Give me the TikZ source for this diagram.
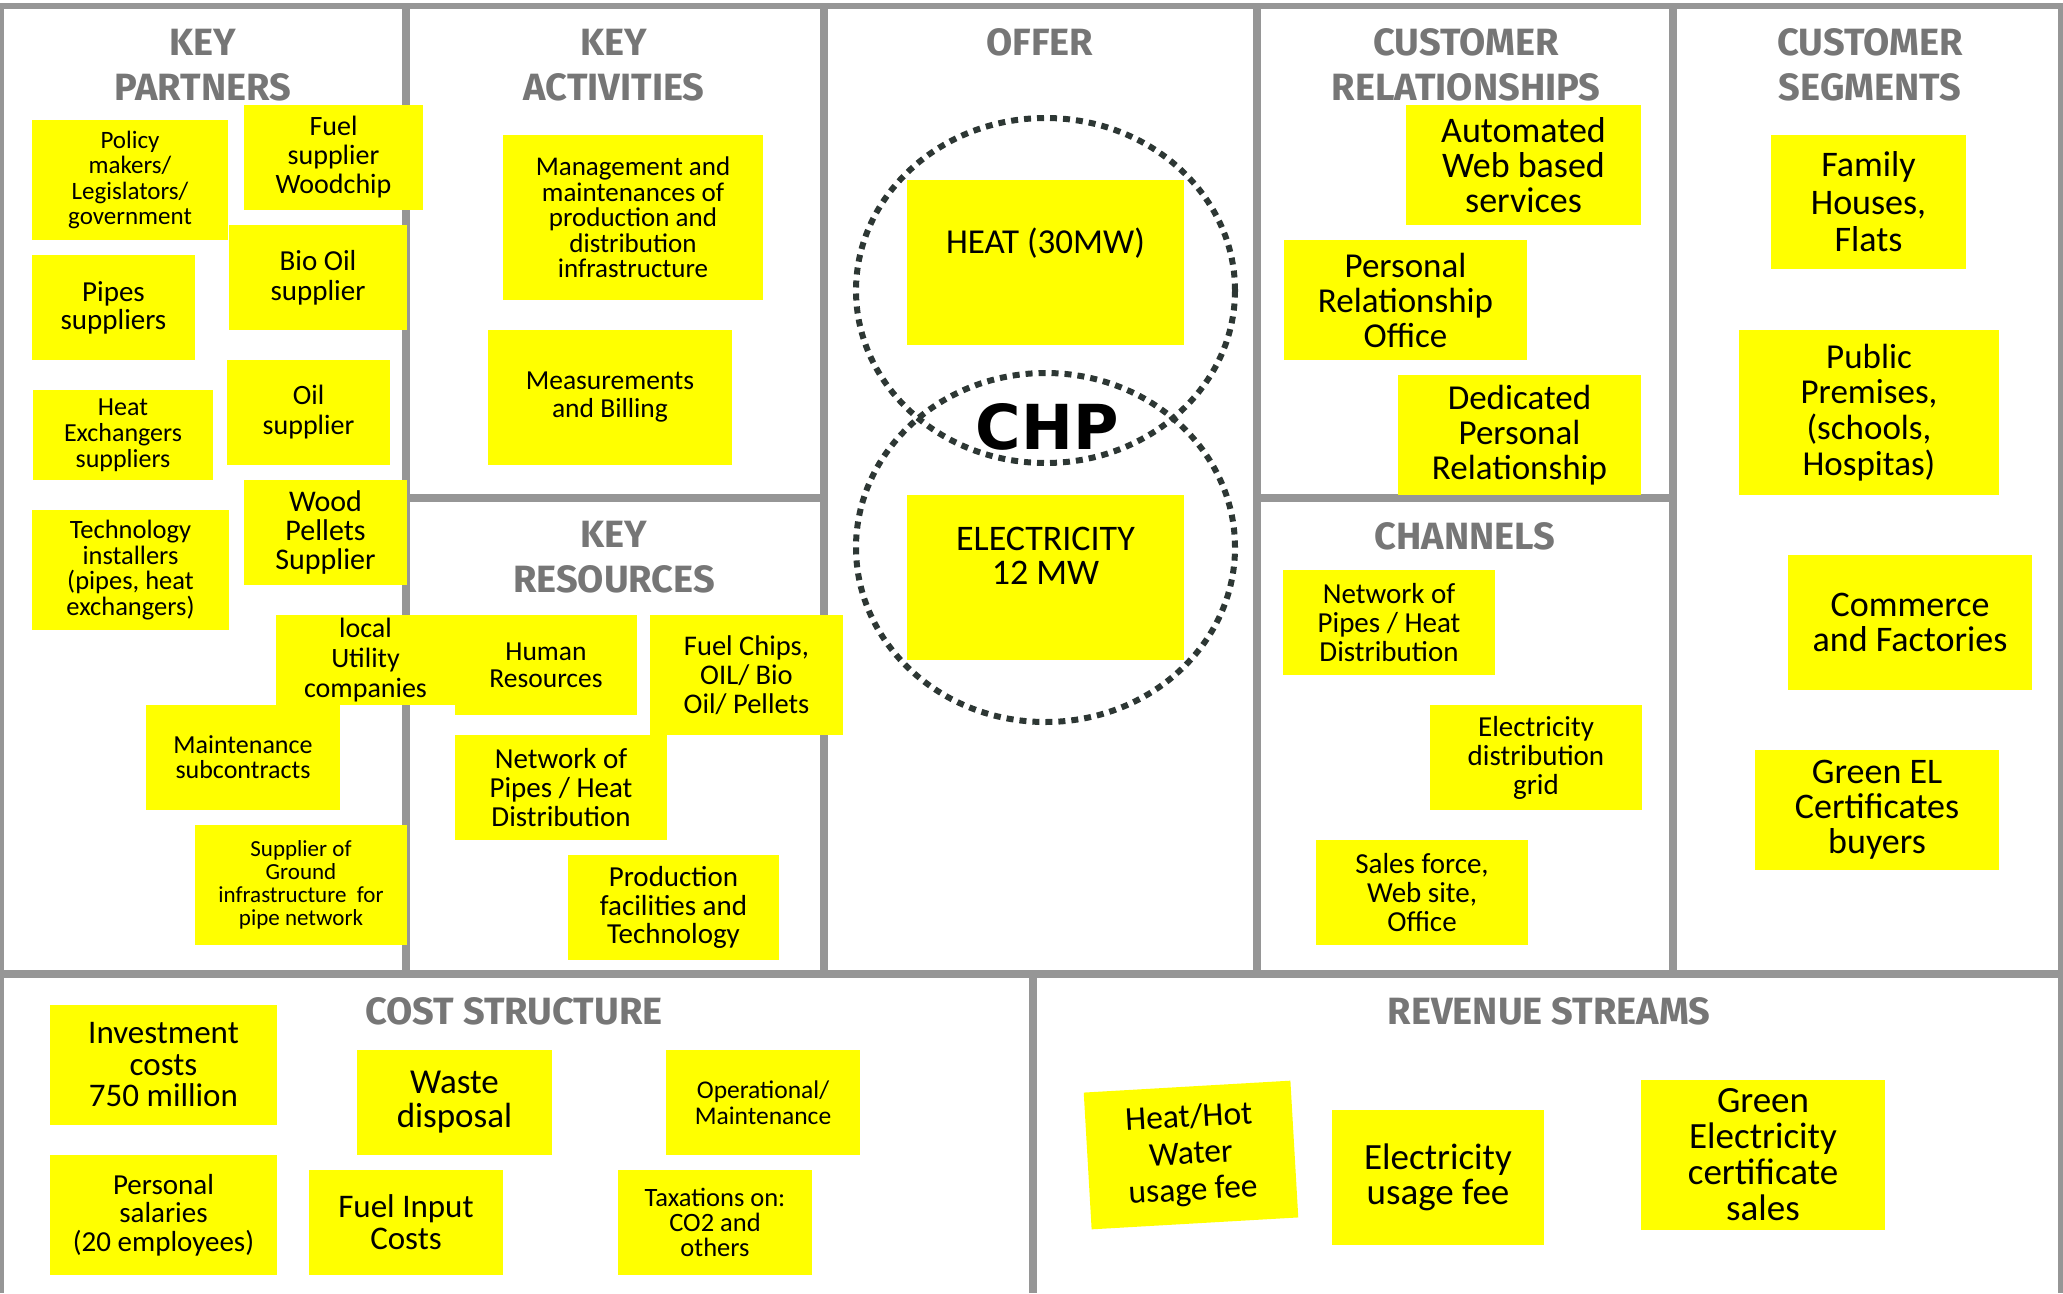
\documentclass[tikz,border=0pt]{standalone}
\usepackage{fontspec}
\setmainfont{Carlito}
\newfontfamily\headfont{Fira Sans}
\newfontfamily\chpfont{DejaVu Sans}
\definecolor{stickyyellow}{RGB}{255,255,0}
\definecolor{gridgray}{RGB}{150,150,150}
\definecolor{headgray}{RGB}{118,118,118}
\definecolor{chpdots}{RGB}{45,55,52}

\begin{document}
\begin{tikzpicture}[x=1pt,y=-1pt,
wall/.style={gridgray,line width=8pt},
head/.style={headgray,align=center,font=\headfont\bfseries\fontsize{38pt}{45pt}\selectfont},
note/.style={fill=stickyyellow,inner sep=0pt,align=center},
wh/.style 2 args={minimum width=#1pt,minimum height=#2pt},
fs/.style 2 args={font=\fontsize{#1pt}{#2pt}\selectfont},
chpring/.style={chpdots,line width=6pt,dash pattern=on 7pt off 6pt}]
\useasboundingbox (0,0) rectangle (2063,1293);
% canvas grid
\draw[gridgray,line width=6pt] (0,6) -- (2063,6);
\draw[wall] (0,6) -- (0,1293);
\draw[wall] (2062,6) -- (2062,1293);
\foreach \x in {406,824,1257,1673} \draw[wall] (\x,6) -- (\x,974);
\draw[wall] (406,498) -- (824,498);
\draw[wall] (1257,498) -- (1673,498);
\draw[wall] (0,974) -- (2063,974);
\draw[wall] (1033,974) -- (1033,1293);
% block titles
\node[head] (kphead) at (203,65) {KEY\\PARTNERS};
\node[head] (kahead) at (614,65) {KEY\\ACTIVITIES};
\node[head] (ofhead) at (1040,42) {OFFER};
\node[head] (crhead) at (1466,65) {CUSTOMER\\RELATIONSHIPS};
\node[head] (cshead) at (1870,65) {CUSTOMER\\SEGMENTS};
\node[head] (krhead) at (614,557) {KEY\\RESOURCES};
\node[head] (chhead) at (1465,536) {CHANNELS};
\node[head] (cohead) at (514,1011) {COST STRUCTURE};
\node[head] (rvhead) at (1549,1011) {REVENUE STREAMS};
% offer rings
\draw[chpring] (1045.5,290.5) ellipse [x radius=189.5pt,y radius=172.5pt];
\draw[chpring] (1045.5,547.5) ellipse [x radius=189.5pt,y radius=174.5pt];
\node (chp) at (1047,427) {\chpfont\fontsize{62pt}{62pt}\selectfont\bfseries CHP};
% key partners
\node[note,wh={196}{120},fs={25}{25.5}] (policy) at (130,180) {Policy\\makers/\\Legislators/\\government};
\node[note,wh={179}{105},fs={28}{29}] (fuelsup) at (333.5,157.5) {Fuel\\supplier\\Woodchip};
\node[note,wh={178}{105},fs={29}{30}] (biooil) at (318,277.5) {Bio Oil\\supplier};
\node[note,wh={163}{105},fs={29}{28}] (pipesup) at (113.5,307.5) {Pipes\\suppliers};
\node[note,wh={180}{90},fs={26}{26}] (heatex) at (123,435) {Heat\\Exchangers\\suppliers};
\node[note,wh={163}{105},fs={28}{30}] (oilsup) at (308.5,412.5) {Oil\\supplier};
\node[note,wh={163}{105},fs={30}{29}] (woodpel) at (325.5,532.5) {Wood\\Pellets\\Supplier};
\node[note,wh={197}{120},fs={26.5}{25.5}] (techinst) at (130.5,570) {Technology\\installers\\(pipes, heat\\exchangers)};
\node[note,wh={179}{90},fs={28}{30}] (localutil) at (365.5,660) {local\\Utility\\companies};
\node[note,wh={194}{105},fs={26}{25}] (maintsub) at (243,757.5) {Maintenance\\subcontracts};
\node[note,wh={212}{120},fs={23}{23}] (groundsup) at (301,885) {Supplier of\\Ground\\infrastructure~ for\\pipe network};
% key activities
\node[note,wh={260}{165},fs={27}{25.5}] (mgmt) at (633,217.5) {Management and\\maintenances of\\production and\\distribution\\infrastructure};
\node[note,wh={244}{135},fs={27.5}{28}] (billing) at (610,397.5) {Measurements\\and Billing};
% key resources
\node[note,wh={182}{100},fs={27.5}{27}] (humanres) at (546,665) {Human\\Resources};
\node[note,wh={193}{120},fs={28.5}{29}] (fuelchips) at (746.5,675) {Fuel Chips,\\OIL/ Bio\\Oil/ Pellets};
\node[note,wh={212}{105},fs={29}{29}] (pipenet) at (561,787.5) {Network of\\Pipes / Heat\\Distribution};
\node[note,wh={211}{105},fs={29}{28.5}] (prodfac) at (673.5,907.5) {Production\\facilities and\\Technology};
% offer
\node[note,wh={277}{165},fs={35}{34}] (heat) at (1045.5,262.5) {HEAT (30MW)\\\strut};
\node[note,wh={277}{165},fs={36}{34}] (elec) at (1045.5,577.5) {ELECTRICITY\\12 MW\\\strut};
% customer relationships
\node[note,wh={235}{120},fs={36}{35}] (webserv) at (1523.5,165) {Automated\\Web based\\services};
\node[note,wh={243}{120},fs={35}{35}] (persrel) at (1405.5,300) {Personal\\Relationship\\Office};
\node[note,wh={243}{120},fs={35}{35}] (dedrel) at (1519.5,435) {Dedicated\\Personal\\Relationship};
% channels
\node[note,wh={212}{105},fs={29}{29}] (pipechan) at (1389,622.5) {Network of\\Pipes / Heat\\Distribution};
\node[note,wh={212}{105},fs={29}{29}] (elecgrid) at (1536,757.5) {Electricity\\distribution\\grid};
\node[note,wh={212}{105},fs={29}{29}] (salesforce) at (1422,892.5) {Sales force,\\Web site,\\Office};
% customer segments
\node[note,wh={195}{134},fs={36}{37.5}] (family) at (1868.5,202) {Family\\Houses,\\Flats};
\node[note,wh={260}{165},fs={35}{35.7}] (public) at (1869,412.5) {Public\\Premises,\\(schools,\\Hospitas)};
\node[note,wh={244}{135},fs={36}{35}] (commerce) at (1910,622.5) {Commerce\\and Factories};
\node[note,wh={244}{120},fs={36}{35}] (greenbuy) at (1877,810) {Green EL\\Certificates\\buyers};
% cost structure
\node[note,wh={227}{120},fs={33}{31.5}] (invest) at (163.5,1065) {Investment\\costs\\750 million};
\node[note,wh={195}{105},fs={35}{34}] (waste) at (454.5,1102.5) {Waste\\disposal};
\node[note,wh={194}{105},fs={25.5}{26}] (operat) at (763,1102.5) {Operational/\\Maintenance};
\node[note,wh={227}{120},fs={29}{28.5}] (salaries) at (163.5,1215) {Personal\\salaries\\(20 employees)};
\node[note,wh={194}{105},fs={33}{32}] (fuelcost) at (406,1222.5) {Fuel Input\\Costs};
\node[note,wh={194}{105},fs={26.5}{25}] (taxes) at (715,1222.5) {Taxations on:\\CO2 and\\others};
% revenue streams
\node[note,wh={207}{137},fs={33.5}{36.5},rotate=3.3] (heatfee) at (1191,1155) {Heat/Hot\\Water\\usage fee};
\node[note,wh={212}{135},fs={37}{35}] (elecfee) at (1438,1177.5) {Electricity\\usage fee};
\node[note,wh={244}{150},fs={37}{36}] (greencert) at (1763,1155) {Green\\Electricity\\certificate\\sales};
\end{tikzpicture}
\end{document}
